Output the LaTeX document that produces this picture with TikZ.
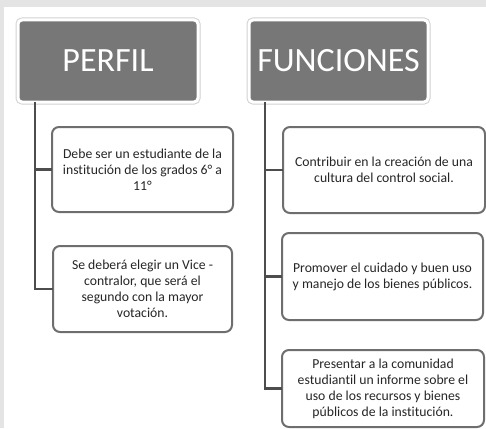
\documentclass[tikz,border=0pt]{standalone}
\usepackage{fontspec}
\setmainfont{Carlito}
\newcommand\tiNoLig{t\kern0pt i}
\definecolor{hdrgray}{HTML}{777777}
\definecolor{boxgray}{HTML}{6E6E6E}
\definecolor{linegray}{HTML}{4D4D4D}
\definecolor{txtgray}{HTML}{262626}
\definecolor{bgstrip}{HTML}{E4E4E4}
\definecolor{pagewhite}{HTML}{FFFFFF}
\tikzset{
  header/.style={rectangle,rounded corners=4pt,fill=hdrgray,draw=pagewhite,line width=3pt,
    preaction={draw=gray!35,line width=5pt},
    text=pagewhite,font=\fontsize{34}{40}\selectfont,inner sep=0pt,outer sep=0pt},
  itembox/.style={rectangle,rounded corners=7pt,fill=pagewhite,draw=boxgray,line width=2pt,
    text=txtgray,font=\fontsize{13.7}{16}\selectfont,align=center,inner sep=0pt,outer sep=0pt},
  conn/.style={draw=linegray,line width=2.5pt}
}
\begin{document}
\begin{tikzpicture}[x=1pt,y=-1pt]
	\useasboundingbox (0,0) rectangle (486,428);
	% background strips
	\fill[pagewhite] (0,0) rectangle (486,428);
	\fill[bgstrip] (0,0) rectangle (486,7);
	\fill[bgstrip] (0,7) rectangle (4,428);
	% Place nodes
	\node [header,minimum width=180pt,minimum height=82pt] (perfil) at (108,61) {PERFIL};
	\node [header,minimum width=179pt,minimum height=82pt] (funciones) at (338.5,61) {FUNCIONES};
	
	\node [itembox,minimum width=181pt,minimum height=85pt] (perfil1) at (142.5,169.5) {Debe ser un estudiante de la\\ins\tiNoLig tución de los grados 6° a\\11°};
	\node [itembox,minimum width=179pt,minimum height=86pt] (perfil2) at (142.5,289) {Se deberá elegir un Vice -\\contralor, que será el\\segundo con la mayor\\votación.};
	
	\node [itembox,minimum width=202pt,minimum height=86pt] (func1) at (384,170) {Contribuir en la creación de una\\cultura del control social.};
	\node [itembox,minimum width=201pt,minimum height=87pt] (func2) at (382.5,276.5) {Promover el cuidado y buen uso\\y manejo de los bienes públicos.};
	\node [itembox,minimum width=202pt,minimum height=77pt] (func3) at (383,388.5) {Presentar a la comunidad\\estudian\tiNoLig l un informe sobre el\\uso de los recursos y bienes\\públicos de la ins\tiNoLig tución.};
	
	% connectors
	\draw [conn] (perfil.south west) ++(17,0) |- (perfil1.west);
	\draw [conn] (perfil.south west) ++(17,0) |- (perfil2.west);
	\draw [conn] (funciones.south west) ++(16,0) |- (func1.west);
	\draw [conn] (funciones.south west) ++(16,0) |- (func2.west);
	\draw [conn] (funciones.south west) ++(16,0) |- (func3.west);
\end{tikzpicture}
\end{document}
